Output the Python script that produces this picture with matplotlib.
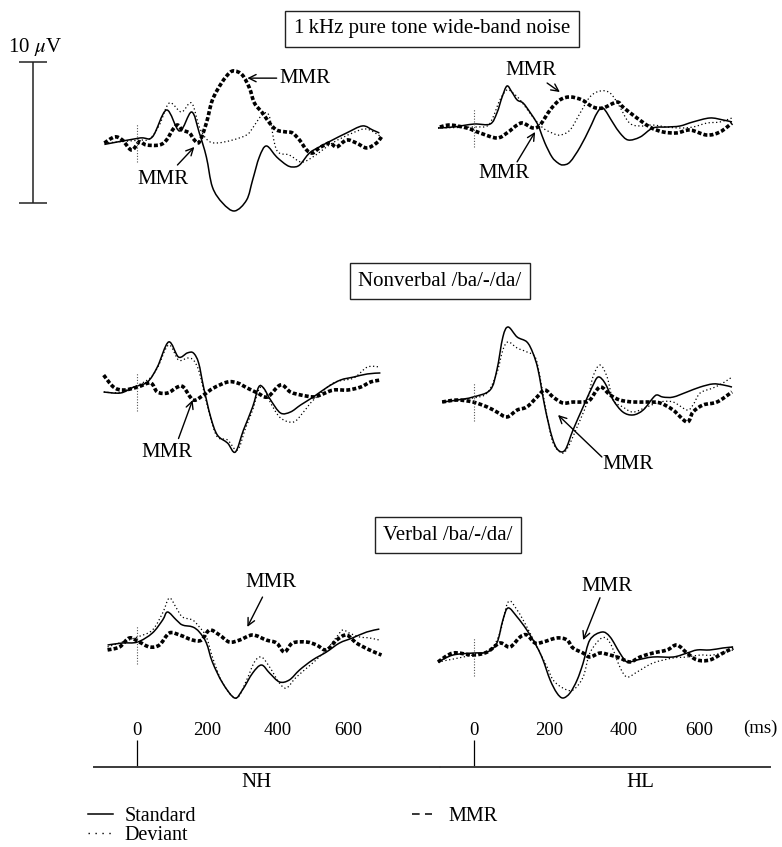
import numpy as np
import matplotlib
matplotlib.use('Agg')
import matplotlib.pyplot as plt
from matplotlib.path import Path
from matplotlib.patches import PathPatch
from matplotlib.lines import Line2D

plt.rcParams['font.family'] = ['Liberation Serif', 'DejaVu Serif']
plt.rcParams['mathtext.fontset'] = 'stix'

# ---- waveforms: time (ms), amplitude (uV, up = positive) ----
# 1 kHz pure tone / wide-band noise, NH
tone_nh_t_std = [-91, 8, 45, 85, 122, 156, 178, 198, 215, 244, 278, 312, 329, 348, 368, 397, 425, 442, 462, 490, 518, 555, 595, 640, 669, 688]
tone_nh_std = [-0.1, 0.35, 0.43, 2.34, 0.85, 2.2, 0.71, -1.0, -3.12, -4.26, -4.82, -4.04, -2.62, -0.99, -0.21, -0.99, -1.56, -1.7, -1.56, -0.71, -0.28, 0.21, 0.71, 1.21, 0.92, 0.71]
tone_nh_t_dev = [-91, 8, 37, 65, 93, 127, 156, 178, 201, 227, 272, 312, 329, 348, 363, 377, 397, 433, 467, 499, 555, 612, 652, 694]
tone_nh_dev = [0, 0.2, 0.28, 1.28, 2.84, 2.2, 2.84, 1.13, 0.21, 0, 0.21, 0.57, 1.06, 1.77, 2.13, 1.84, -0.5, -0.85, -1.35, -1.0, 0, 0.71, 0.99, 0.43]
tone_nh_t_mmr = [-91, -62, -40, -14, 8, 28, 65, 85, 102, 116, 130, 150, 164, 178, 198, 215, 241, 263, 278, 300, 320, 334, 357, 377, 397, 425, 442, 462, 482, 499, 518, 547, 567, 595, 623, 652, 680, 694]
tone_nh_mmr = [0, 0.43, 0.21, -0.5, 0.07, -0.14, -0.14, 0.21, 0.92, 1.28, 0.92, 0.71, 0.21, 0.07, 1.42, 3.05, 4.26, 4.96, 5.11, 4.82, 3.9, 2.84, 2.13, 1.42, 0.92, 0.78, 0.71, 0.21, -0.5, -0.71, -0.35, 0, -0.28, 0.21, 0, -0.35, 0, 0.43]

# 1 kHz pure tone / wide-band noise, HL
tone_hl_t_std = [-96, -56, 0, 43, 61, 75, 88, 101, 115, 131, 149, 168, 176, 189, 208, 224, 237, 256, 283, 309, 328, 344, 371, 389, 411, 443, 477, 515, 549, 584, 629, 664, 688]
tone_hl_std = [0, 0.07, 0.28, 0.28, 1.06, 2.2, 2.98, 2.55, 1.99, 1.77, 1.13, 0.35, -0.14, -1.06, -2.06, -2.48, -2.62, -2.41, -1.35, 0, 1.06, 1.42, 0.35, -0.35, -0.85, -0.64, 0, 0.07, 0.14, 0.43, 0.71, 0.57, 0.43]
tone_hl_t_dev = [-96, 0, 35, 51, 69, 88, 104, 123, 157, 184, 208, 229, 256, 283, 309, 336, 363, 389, 408, 424, 451, 477, 515, 549, 584, 621, 656, 688]
tone_hl_dev = [0, 0.07, 0.14, 0.78, 1.99, 2.7, 2.48, 1.99, 0.78, 0, -0.35, -0.5, -0.14, 1.06, 2.2, 2.62, 2.48, 1.49, 0.57, 0.21, 0.14, 0.21, 0.07, 0, 0.07, 0.35, 0.43, 0.71]
tone_hl_t_mmr = [-91, -64, -19, 16, 61, 88, 115, 131, 157, 176, 203, 229, 256, 288, 317, 344, 381, 397, 424, 469, 504, 541, 576, 621, 656, 688]
tone_hl_mmr = [0.07, 0.21, 0, -0.35, -0.71, -0.35, 0.21, 0.35, 0, 0.21, 1.28, 1.99, 2.2, 1.99, 1.49, 1.42, 1.84, 1.49, 0.92, 0.07, -0.28, -0.35, -0.14, -0.5, -0.28, 0.35]

# Nonverbal /ba/-/da/, NH
nonv_nh_t_std = [-93, -45, -8, 31, 59, 91, 119, 144, 161, 176, 190, 210, 229, 258, 280, 303, 329, 346, 360, 380, 408, 436, 465, 501, 541, 578, 615, 654, 691]
nonv_nh_std = [0, -0.07, 0.35, 0.71, 1.77, 3.55, 2.48, 2.77, 2.77, 2.06, 0.35, -1.77, -3.05, -3.62, -4.26, -2.7, -1.06, 0.35, 0.28, -0.57, -1.49, -1.42, -0.92, -0.35, 0.35, 0.85, 1.06, 1.28, 1.35]
nonv_nh_t_dev = [-93, -45, 31, 59, 91, 119, 144, 161, 176, 190, 210, 229, 258, 286, 309, 329, 346, 360, 380, 408, 445, 473, 501, 558, 615, 654, 691]
nonv_nh_dev = [0, 0, 0.85, 1.7, 3.33, 2.27, 2.41, 2.27, 1.56, 0.14, -1.84, -3.19, -3.4, -4.11, -2.55, -1.28, 0.14, 0.28, -0.78, -1.84, -2.13, -1.42, -0.57, 0.64, 0.99, 1.77, 1.77]
nonv_nh_t_mmr = [-93, -65, -37, 3, 40, 59, 88, 116, 133, 161, 190, 218, 258, 286, 314, 343, 371, 408, 436, 465, 501, 521, 558, 598, 635, 663, 691]
nonv_nh_mmr = [1.2, 0.35, 0.14, 0.35, 0.64, 0, -0.07, 0.35, 0.35, -0.57, -0.21, 0.28, 0.71, 0.64, 0.28, -0.07, -0.35, 0.5, 0, -0.21, -0.35, -0.21, 0.14, 0.14, 0.35, 0.71, 0.85]

# Nonverbal /ba/-/da/, HL
nonv_hl_t_std = [-85, -45, -3, 43, 61, 77, 91, 115, 141, 157, 171, 189, 208, 224, 243, 264, 291, 315, 331, 349, 371, 397, 424, 451, 477, 488, 504, 531, 568, 603, 637, 664, 688]
nonv_hl_std = [0, 0.14, 0.35, 0.85, 2.27, 4.61, 5.32, 4.61, 4.26, 3.48, 2.27, -0.35, -2.48, -3.4, -3.4, -1.99, -0.35, 1.06, 1.77, 1.35, 0.14, -0.71, -0.92, -0.57, 0.28, 0.5, 0.35, 0.35, 0.71, 1.06, 1.28, 1.21, 1.06]
nonv_hl_t_dev = [-85, -3, 35, 61, 77, 91, 115, 141, 163, 176, 195, 211, 235, 251, 275, 301, 317, 336, 355, 371, 397, 424, 461, 496, 531, 568, 584, 603, 637, 664, 688]
nonv_hl_dev = [0, 0.28, 0.64, 2.06, 3.69, 4.26, 3.83, 3.55, 3.19, 1.77, -1.06, -2.91, -3.62, -3.19, -1.77, -0.07, 1.77, 2.62, 1.77, 0.14, -0.35, -0.71, -0.35, 0, 0, -0.57, -0.21, 0.64, 0.99, 1.35, 1.77]
nonv_hl_t_mmr = [-85, -45, -3, 35, 61, 88, 115, 141, 168, 189, 211, 237, 264, 291, 309, 336, 363, 389, 424, 461, 496, 531, 568, 584, 611, 648, 688]
nonv_hl_mmr = [0, 0.14, 0, -0.35, -0.71, -1.06, -0.57, -0.35, 0.35, 0.85, 0.35, -0.07, 0, 0, 0.14, 1.06, 0.5, 0.14, 0, 0, -0.07, -0.57, -1.42, -0.71, -0.21, 0, 0.71]

# Verbal /ba/-/da/, NH
verb_nh_t_std = [-82, -40, 3, 45, 74, 88, 113, 130, 159, 178, 198, 215, 244, 278, 300, 329, 354, 377, 405, 433, 462, 499, 538, 575, 612, 652, 688]
verb_nh_std = [0, 0.14, 0.21, 0.85, 1.77, 2.34, 1.77, 1.42, 1.28, 0.92, 0.14, -1.21, -2.7, -3.76, -3.19, -1.99, -1.42, -1.99, -2.62, -2.48, -1.77, -1.06, -0.5, 0.14, 0.5, 0.92, 1.13]
verb_nh_t_dev = [-82, -40, 3, 45, 74, 93, 113, 130, 159, 178, 198, 215, 244, 283, 312, 334, 354, 377, 405, 425, 453, 499, 538, 567, 584, 603, 632, 660, 688]
verb_nh_dev = [-0.14, 0.21, 0.57, 1.06, 2.27, 3.33, 2.62, 1.99, 1.77, 1.28, 0.57, -0.85, -2.7, -3.76, -2.48, -1.21, -0.85, -1.56, -2.7, -3.05, -2.27, -1.28, -0.35, 0.57, 1.06, 0.85, 0.57, 0.5, 0.35]
verb_nh_t_mmr = [-82, -48, -20, 8, 37, 65, 93, 122, 159, 184, 207, 235, 263, 292, 329, 368, 397, 419, 442, 482, 510, 538, 567, 595, 623, 660, 694]
verb_nh_mmr = [-0.35, -0.14, 0.5, 0.21, -0.14, 0, 0.85, 0.71, 0.35, 0.35, 1.06, 0.71, 0.21, 0.35, 0.71, 0.35, 0.14, -0.5, 0.14, 0.21, 0, -0.35, 0.35, 0.71, 0.14, -0.35, -0.71]

# Verbal /ba/-/da/, HL
verb_hl_t_std = [-96, -56, -3, 35, 61, 77, 91, 115, 141, 168, 184, 203, 221, 237, 256, 275, 291, 309, 341, 363, 389, 408, 435, 477, 531, 568, 595, 629, 664, 691]
verb_hl_std = [-0.35, 0.14, 0.28, 0.35, 0.99, 2.62, 3.48, 2.84, 1.91, 0.71, -0.21, -1.63, -2.55, -2.91, -2.55, -1.63, -0.43, 1.21, 1.77, 1.42, 0.28, -0.35, -0.21, 0, 0, 0.28, 0.5, 0.5, 0.64, 0.71]
verb_hl_t_dev = [-96, -3, 43, 69, 91, 115, 141, 168, 195, 211, 237, 264, 291, 309, 341, 363, 389, 408, 435, 477, 531, 568, 603, 637, 691]
verb_hl_dev = [-0.35, 0.14, 0.5, 1.7, 3.9, 3.33, 2.13, 0.71, -0.71, -1.63, -2.2, -2.34, -1.42, 0.28, 1.35, 0.99, -0.71, -1.42, -1.06, -0.43, -0.07, 0, 0.14, 0.14, 0.5]
verb_hl_t_mmr = [-96, -56, -3, 35, 69, 96, 123, 141, 163, 184, 221, 248, 264, 291, 309, 336, 363, 389, 416, 443, 477, 515, 541, 568, 595, 629, 664, 691]
verb_hl_mmr = [-0.35, 0.28, 0.14, 0.35, 0.99, 0.71, 1.42, 1.56, 0.99, 1.06, 1.35, 1.21, 0.64, 0.28, 0, 0.28, 0.14, -0.07, -0.35, 0, 0.28, 0.5, 0.85, 0.28, -0.21, -0.21, 0.28, 0.64]

# MMR callouts: (text position, arrow tail, arrow head) in ms / uV
tone_nh_notes = [((405, 4.6), (397, 4.6), (314, 4.6)), ((74, -2.6), (116, -1.56), (164, -0.28))]
tone_hl_notes = [((152, 4.1), (195, 3.19), (229, 2.55)), ((80, -3.2), (115, -2.4), (163, -0.28))]
nonv_nh_notes = [((85, -4.26), (119, -3.3), (159, -0.57))]
nonv_hl_notes = [((411, -4.46), (341, -3.9), (224, -0.92))]
verb_nh_notes = [((380, 4.4), (357, 3.4), (314, 1.28))]
verb_hl_notes = [((355, 5.0), (336, 4.2), (291, 1.2))]

titles = ['1\u2009kHz pure tone wide-band noise', 'Nonverbal /ba/-/da/', 'Verbal /ba/-/da/']
time_ticks = [0, 200, 400, 600]
groups = ['NH', 'HL']
scale_uv = 10

# ---- layout (pixels) ----
W, H, DPI = 782, 847, 100
SY = 14.1                      # px per uV
NH_X0, NH_SX = 136.5, 0.353    # px of 0 ms, px per ms
HL_X0, HL_SX = 474.0, 0.375
BASE_Y = 767

fig = plt.figure(figsize=(W / DPI, H / DPI), dpi=DPI)


def panel(x0, y0, sx, tlim=(-110, 720), alim=(-6, 6)):
    left = (x0 + tlim[0] * sx) / W
    width = (tlim[1] - tlim[0]) * sx / W
    bottom = 1 - (y0 - alim[0] * SY) / H
    height = (alim[1] - alim[0]) * SY / H
    ax = fig.add_axes([left, bottom, width, height])
    ax.set_xlim(tlim)
    ax.set_ylim(alim)
    ax.axis('off')
    return ax


def smooth(t, v):
    # Catmull-Rom through the read points, drawn as cubic Bezier segments
    p = np.column_stack([t, v]).astype(float)
    e = np.vstack([p[0], p, p[-1]])
    verts, codes = [p[0]], [Path.MOVETO]
    for i in range(len(p) - 1):
        c1 = e[i + 1] + (e[i + 2] - e[i]) / 6
        c2 = e[i + 2] - (e[i + 3] - e[i + 1]) / 6
        verts += [c1, c2, e[i + 2]]
        codes += [Path.CURVE4] * 3
    return Path(verts, codes)


STYLE = {
    'std': dict(lw=1.1, ls='-'),
    'dev': dict(lw=0.9, ls=(0, (1, 2))),
    'mmr': dict(lw=2.6, ls=(0, (1.1, 0.6))),
}


def draw_panel(ax, series, notes):
    for kind, t, v in series:
        ax.add_patch(PathPatch(smooth(t, v), fill=False, color='black',
                               capstyle='butt', joinstyle='round', **STYLE[kind]))
    ax.vlines(0, -1.35, 1.35, color='#555555', lw=0.8, ls=(0, (1, 1.5)))
    for txt, tail, head in notes:
        ax.annotate('', xy=head, xytext=tail,
                    arrowprops=dict(arrowstyle='->', lw=1.0, color='black',
                                    shrinkA=0, shrinkB=0, mutation_scale=13))
        ha = 'left' if tail[1] == head[1] else 'center'
        ax.text(txt[0], txt[1], 'MMR', ha=ha, va='center', fontsize=15)


rows = [
    (143, 128, (tone_nh_t_std, tone_nh_std, tone_nh_t_dev, tone_nh_dev, tone_nh_t_mmr, tone_nh_mmr),
     (tone_hl_t_std, tone_hl_std, tone_hl_t_dev, tone_hl_dev, tone_hl_t_mmr, tone_hl_mmr),
     tone_nh_notes, tone_hl_notes),
    (392, 402, (nonv_nh_t_std, nonv_nh_std, nonv_nh_t_dev, nonv_nh_dev, nonv_nh_t_mmr, nonv_nh_mmr),
     (nonv_hl_t_std, nonv_hl_std, nonv_hl_t_dev, nonv_hl_dev, nonv_hl_t_mmr, nonv_hl_mmr),
     nonv_nh_notes, nonv_hl_notes),
    (645, 657, (verb_nh_t_std, verb_nh_std, verb_nh_t_dev, verb_nh_dev, verb_nh_t_mmr, verb_nh_mmr),
     (verb_hl_t_std, verb_hl_std, verb_hl_t_dev, verb_hl_dev, verb_hl_t_mmr, verb_hl_mmr),
     verb_nh_notes, verb_hl_notes),
]

for y_nh, y_hl, nh, hl, n_nh, n_hl in rows:
    for (x0, sx, y0, d, notes) in [(NH_X0, NH_SX, y_nh, nh, n_nh), (HL_X0, HL_SX, y_hl, hl, n_hl)]:
        ax = panel(x0, y0, sx)
        draw_panel(ax, [('std', d[0], d[1]), ('dev', d[2], d[3]), ('mmr', d[4], d[5])], notes)

# condition titles in boxes
for (x, y), title in zip([(432, 29), (440, 281), (448, 535)], titles):
    fig.text(x / W, 1 - y / H, title, ha='center', va='center', fontsize=15,
             bbox=dict(boxstyle='square,pad=0.42', fc='white', ec='#222222', lw=1.0))

# 10 uV scale bar
sax = fig.add_axes([13 / W, 1 - (203 + SY) / H, 40 / W, (scale_uv + 2) * SY / H])
sax.set_xlim(-20, 20)
sax.set_ylim(-1, scale_uv + 1)
sax.axis('off')
sax.vlines(0, 0, scale_uv, color='#222222', lw=1.1)
sax.hlines([0, scale_uv], -14, 14, color='#222222', lw=1.1)
sax.annotate(r'10 $\mu$V', xy=(0, scale_uv), xytext=(1.5, 11), textcoords='offset points',
             ha='center', va='center', fontsize=15, annotation_clip=False)


# time axes under both columns
def time_axis(x0, sx, px_left, px_right, label, label_t, unit=False):
    ax = fig.add_axes([px_left / W, 1 - (BASE_Y + 2) / H, (px_right - px_left) / W, 2 / H])
    ax.set_xlim((px_left - x0) / sx, (px_right - x0) / sx)
    ax.set_ylim(0, 1)
    ax.patch.set_visible(False)
    for s in ['left', 'right', 'bottom']:
        ax.spines[s].set_visible(False)
    ax.spines['top'].set_color('#3a3a3a')
    ax.spines['top'].set_linewidth(1.4)
    ax.set_yticks([])
    ax.xaxis.set_ticks_position('top')
    ax.set_xticks(time_ticks)
    ax.set_xticklabels([str(t) for t in time_ticks])
    ax.tick_params(axis='x', direction='out', length=19.5, width=0.9, pad=1, labelsize=13.5)
    for tk, val in zip(ax.xaxis.get_major_ticks(), time_ticks):
        if val != 0:
            tk.tick2line.set_visible(False)
    ax.annotate(label, xy=(label_t, 1), xycoords=('data', 'axes fraction'),
                xytext=(0, -11.5), textcoords='offset points', ha='center', va='center',
                fontsize=15, annotation_clip=False)
    if unit:
        ax.annotate('(ms)', xy=((760 - x0) / sx, 1), xycoords=('data', 'axes fraction'),
                    xytext=(0, 28), textcoords='offset points', ha='center', va='center',
                    fontsize=13.5, annotation_clip=False)


time_axis(NH_X0, NH_SX, 94, 440, groups[0], 341)
time_axis(HL_X0, HL_SX, 440, 770, groups[1], 443, unit=True)

# legend
h_std = Line2D([], [], color='black', lw=1.1)
h_dev = Line2D([], [], color='black', lw=1.0, ls=(0, (1, 4)))
h_mmr = Line2D([], [], color='black', lw=1.1, ls=(0, (5, 3.5)))
fig.legend([h_std, h_dev], ['Standard', 'Deviant'], loc='upper left',
           bbox_to_anchor=(88 / W, 1 - 807 / H), frameon=False, fontsize=14.5,
           handlelength=1.25, handletextpad=0.55, labelspacing=0.0,
           borderpad=0, borderaxespad=0)
fig.legend([h_mmr], ['MMR'], loc='upper left',
           bbox_to_anchor=(412 / W, 1 - 807 / H), frameon=False, fontsize=14.5,
           handlelength=1.0, handletextpad=0.8, borderpad=0, borderaxespad=0)

fig.savefig('out.png', dpi=DPI)
